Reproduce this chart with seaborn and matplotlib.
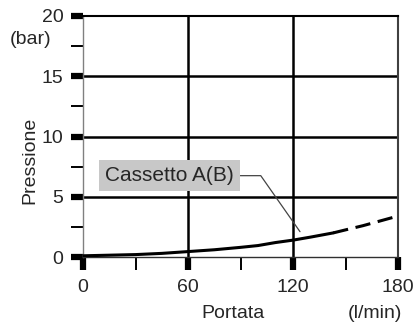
import matplotlib
matplotlib.use("Agg")
import matplotlib.pyplot as plt
import pandas as pd
import seaborn as sns

# curve (flow l/min, pressure bar)
flow_solid = [0, 15, 30, 45, 60, 75, 90, 100, 110, 120, 130, 143]
press_solid = [0.1, 0.15, 0.2, 0.3, 0.45, 0.6, 0.8, 0.95, 1.2, 1.4, 1.65, 2.0]
flow_dashed = [143, 150, 160, 170, 180]
press_dashed = [2.0, 2.25, 2.6, 3.0, 3.4]

x_ticks = [0, 60, 120, 180]
y_ticks = [0, 5, 10, 15, 20]
label = "Cassetto A(B)"

sns.set_style("white")
plt.rcParams["font.family"] = ["Liberation Sans", "DejaVu Sans"]

fig = plt.figure(figsize=(4.17, 3.27), dpi=100)
ax = fig.add_axes([83 / 417, 70 / 327, 315 / 417, 241 / 327])

# inner grid lines, drawn below the curve
for x in x_ticks[1:-1]:
    ax.axvline(x, color="black", lw=1.8, zorder=1)
for y in y_ticks[1:-1]:
    ax.axhline(y, color="black", lw=1.8, zorder=1)

solid = pd.DataFrame({"flow": flow_solid, "press": press_solid})
dashed = pd.DataFrame({"flow": flow_dashed, "press": press_dashed})
sns.lineplot(data=solid, x="flow", y="press", ax=ax, color="black", lw=2.2, zorder=3)
sns.lineplot(data=dashed, x="flow", y="press", ax=ax, color="black", lw=2.2,
             linestyle=(0, (5, 2.5)), zorder=3)

ax.set_xlim(0, 180)
ax.set_ylim(0, 20)
ax.set_xticks(x_ticks)
ax.set_yticks(y_ticks)
ax.set_xticks([30, 90, 150], minor=True)
ax.set_yticks([2.5, 7.5, 12.5, 17.5], minor=True)
ax.tick_params(which="both", bottom=True, left=True, top=False, right=False)
ax.tick_params(which="major", direction="out", length=9, width=4.5, color="black",
               labelsize=14, pad=5)
ax.tick_params(which="minor", direction="out", length=9, width=1.4, color="black")
ax.tick_params(axis="x", which="major", pad=7)

ax.spines["left"].set_color("#808080")
ax.spines["left"].set_linewidth(1)
ax.spines["right"].set_color("#404040")
ax.spines["right"].set_linewidth(1.5)
ax.spines["bottom"].set_color("#303030")
ax.spines["bottom"].set_linewidth(1)
ax.spines["top"].set_color("black")
ax.spines["top"].set_linewidth(1.5)

ax.set_xlabel("")
ax.set_ylabel("")
fig.text(30 / 417, 1 - 160 / 327, "Pressione", rotation=90, fontsize=14,
         ha="center", va="center")
fig.text(31 / 417, 1 - 40 / 327, "(bar)", fontsize=14, ha="center", va="center")
fig.text(233 / 417, 1 - 314 / 327, "Portata", fontsize=14, ha="center", va="center")
fig.text(375 / 417, 1 - 314 / 327, "(l/min)", fontsize=14, ha="center", va="center")

ax.annotate(label, xy=(124, 2.1), xytext=(49.5, 6.75), fontsize=15,
            ha="center", va="center", zorder=4,
            bbox=dict(boxstyle="square,pad=0.3", fc="#c8c8c8", ec="none"),
            arrowprops=dict(arrowstyle="-", color="#444444", lw=0.9,
                            connectionstyle="angle,angleA=0,angleB=125,rad=0",
                            shrinkA=0, shrinkB=0))

fig.savefig("out.png", dpi=100)
